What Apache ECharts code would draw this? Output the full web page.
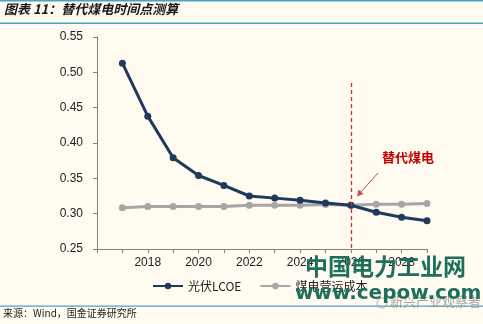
<!DOCTYPE html>
<html>
<head>
<meta charset="utf-8">
<script src="https://cdn.jsdelivr.net/npm/echarts@6/dist/echarts.min.js"></script>
<style>
  html, body { margin: 0; padding: 0; background: #FFFBF0; }
  #chart { width: 483px; height: 324px; }
</style>
</head>
<body>
<div id="chart"></div>
<script>
// Years on the horizontal axis (2016 is an empty leading slot)
const years = ['2016', '2017', '2018', '2019', '2020', '2021', '2022', '2023', '2024', '2025', '2026', '2027', '2028', '2029'];
// PV levelized cost of electricity (yuan/kWh)
const pvLcoe = [null, 0.513, 0.438, 0.379, 0.354, 0.340, 0.325, 0.322, 0.319, 0.315, 0.312, 0.302, 0.295, 0.290];
// Coal power operating cost (yuan/kWh)
const coalCost = [null, 0.3085, 0.310, 0.310, 0.310, 0.310, 0.312, 0.312, 0.312, 0.313, 0.312, 0.3135, 0.3135, 0.3145];
// Value axis ticks
const yMin = 0.25, yMax = 0.55, yStep = 0.05;
// Year when PV replaces coal power
const crossYear = '2026';

const chart = echarts.init(document.getElementById('chart'), null, { renderer: 'canvas' });
const cjk = '"Noto Sans CJK SC", "Noto Sans", sans-serif';

chart.setOption({
  backgroundColor: '#FFFBF0',
  animation: false,
  grid: { left: 97, right: 56, top: 37, bottom: 75 },
  legend: {
    bottom: 27,
    left: 147,
    itemWidth: 30,
    itemHeight: 8,
    itemGap: 18,
    textStyle: { fontFamily: cjk, fontSize: 12, color: '#222' },
    data: ['光伏LCOE', '煤电营运成本']
  },
  xAxis: {
    type: 'category',
    data: years,
    boundaryGap: false,
    axisLine: { lineStyle: { color: '#7f7f7f', width: 1 } },
    axisTick: { interval: 0, length: 4, lineStyle: { color: '#7f7f7f' } },
    axisLabel: {
      interval: (i) => i > 0 && i % 2 === 0,
      margin: 8,
      fontFamily: 'Arial, "Liberation Sans", sans-serif',
      fontSize: 12,
      color: '#222'
    },
    splitLine: { show: false }
  },
  yAxis: {
    type: 'value',
    min: yMin,
    max: yMax,
    interval: yStep,
    axisLine: { show: true, lineStyle: { color: '#7f7f7f', width: 1 } },
    axisTick: { show: true, length: 4, lineStyle: { color: '#7f7f7f' } },
    axisLabel: {
      formatter: (v) => v.toFixed(2),
      margin: 14,
      fontFamily: 'Arial, "Liberation Sans", sans-serif',
      fontSize: 12,
      color: '#222'
    },
    splitLine: { show: false }
  },
  series: [
    {
      name: '煤电营运成本',
      type: 'line',
      data: coalCost,
      symbol: 'circle',
      symbolSize: 7,
      itemStyle: { color: '#A6A6A6' },
      lineStyle: { color: '#A6A6A6', width: 3 },
      z: 2
    },
    {
      name: '光伏LCOE',
      type: 'line',
      data: pvLcoe,
      symbol: 'circle',
      symbolSize: 7,
      itemStyle: { color: '#1F3A5C' },
      lineStyle: { color: '#1F3A5C', width: 3 },
      z: 3,
      markLine: {
        silent: true,
        symbol: 'none',
        label: { show: false },
        emphasis: { disabled: true },
        lineStyle: { color: '#C8302A', type: [4, 3], width: 1.3, opacity: 1 },
        data: [[{ coord: [crossYear, 0.485] }, { coord: [crossYear, yMin] }]]
      }
    }
  ],
  graphic: [
    // header rules
    { type: 'rect', shape: { x: 0, y: 0, width: 483, height: 1.5 }, style: { fill: '#4BA3C3' }, silent: true },
    { type: 'rect', shape: { x: 0, y: 22.5, width: 483, height: 1.5 }, style: { fill: '#4BA3C3' }, silent: true },
    { type: 'rect', shape: { x: 0, y: 305.5, width: 483, height: 1.2 }, style: { fill: '#4BA3C3' }, silent: true },
    {
      type: 'text', left: 4, top: 3,
      style: { text: '图表 11：替代煤电时间点测算', font: 'italic bold 13px ' + cjk, fill: '#1a1a1a' }
    },
    {
      type: 'text', left: 3, top: 308,
      style: { text: '来源：Wind，国金证券研究所', font: '10px ' + cjk, fill: '#222' }
    },
    // annotation
    {
      type: 'text', left: 382, top: 151,
      style: { text: '替代煤电', font: 'bold 13px ' + cjk, fill: '#C00000' }
    },
    {
      type: 'line', shape: { x1: 378, y1: 173, x2: 360, y2: 193 },
      style: { stroke: '#C0504D', lineWidth: 1 }
    },
    {
      type: 'polygon', shape: { points: [[357, 196.5], [358.5, 189.5], [363.5, 194]] },
      style: { fill: '#C0504D' }
    },
    // site watermark
    {
      type: 'text', left: 305, top: 255, z: 100,
      style: { text: '中国电力工业网', font: 'bold 23px ' + cjk, fill: '#1E6F5C' }
    },
    {
      type: 'text', left: 295, top: 284, z: 100,
      style: { text: 'www.cepow.com', font: 'bold 20px "DejaVu Sans", sans-serif', fill: '#1E6F5C' }
    },
    {
      type: 'text', left: 390, top: 295, z: 99,
      style: { text: '新兴产业观察者', font: '13px ' + cjk, fill: 'rgba(140,140,140,0.75)' }
    },
    {
      type: 'circle', shape: { cx: 382, cy: 303, r: 5 }, z: 99,
      style: { fill: 'none', stroke: 'rgba(150,150,150,0.7)', lineWidth: 1 }
    }
  ]
});
</script>
</body>
</html>
